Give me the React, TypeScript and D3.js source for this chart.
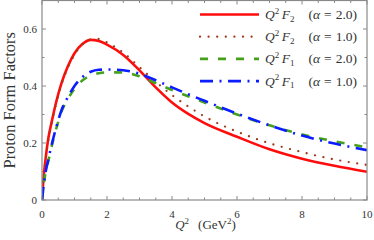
import React from "react";
import * as d3 from "d3";

const q2 = [0, 0.05, 0.1, 0.2, 0.3, 0.45, 0.6, 0.8, 1, 1.25, 1.5, 1.75, 2, 2.5, 3, 3.5, 4, 4.5, 5, 6, 7, 8, 9, 10];
const f2a2 = [0, 0.08, 0.135, 0.22, 0.275, 0.35, 0.41, 0.47, 0.515, 0.548, 0.562, 0.558, 0.545, 0.509, 0.455, 0.395, 0.342, 0.302, 0.27, 0.222, 0.178, 0.145, 0.12, 0.099];
const f2a1 = [0, 0.08, 0.13, 0.215, 0.27, 0.345, 0.405, 0.465, 0.51, 0.546, 0.563, 0.565, 0.553, 0.517, 0.466, 0.415, 0.368, 0.328, 0.293, 0.24, 0.199, 0.168, 0.142, 0.123];
const f1a2 = [0, 0.05, 0.09, 0.14, 0.19, 0.255, 0.31, 0.355, 0.39, 0.42, 0.437, 0.445, 0.448, 0.447, 0.434, 0.41, 0.386, 0.364, 0.342, 0.3, 0.262, 0.23, 0.206, 0.185];
const f1a1 = [0, 0.05, 0.09, 0.145, 0.195, 0.26, 0.315, 0.362, 0.4, 0.432, 0.45, 0.457, 0.458, 0.455, 0.443, 0.42, 0.395, 0.371, 0.348, 0.303, 0.262, 0.226, 0.198, 0.175];

const xTicks = [0, 2, 4, 6, 8, 10];
const yTicks = [0, 0.2, 0.4, 0.6];

const series = [
  { vals: f2a2, F: "F", sub: "2", alpha: "2.0", color: "#ff0d0d", width: 2.6, dash: "", cap: "butt" },
  { vals: f2a1, F: "F", sub: "2", alpha: "1.0", color: "#a03a18", width: 2.3, dash: "0 8.6", cap: "round" },
  { vals: f1a2, F: "F", sub: "1", alpha: "2.0", color: "#45a01c", width: 2.6, dash: "8 10", cap: "butt" },
  { vals: f1a1, F: "F", sub: "1", alpha: "1.0", color: "#0b1cff", width: 2.6, dash: "13 6.5 2 6.5", cap: "butt" },
];

const W = 374, H = 240;
const m = { left: 42, right: 7, top: 0.5, bottom: 40 };
const serif = "'Liberation Serif', 'DejaVu Serif', serif";
const axisColor = "#8a8a8a";

export default function App() {
  const x = d3.scaleLinear().domain([0, 10]).range([m.left, W - m.right]);
  const y = d3.scaleLinear().domain([0, 0.7]).range([H - m.bottom, m.top]);
  const line = (vals: number[]) =>
    d3.line<number>()
      .x((_, i) => x(q2[i]))
      .y((d) => y(d))
      .curve(d3.curveMonotoneX)(vals) || "";

  const xMinor = d3.range(0, 10.01, 0.5);
  const yMinor = d3.range(0, 0.701, 0.1);
  const x0 = x(0), x1 = x(10), y0 = y(0), y1 = y(0.7);

  return (
    <svg width={W} height={H} style={{ position: "absolute", left: 0, top: 0, background: "#fff" }}>
      <defs>
        <clipPath id="plot">
          <rect x={x0} y={y1} width={x1 - x0} height={y0 - y1} />
        </clipPath>
      </defs>
      {/* ticks, inward on all four sides */}
      <g stroke={axisColor} strokeWidth={1}>
        {xMinor.map((t) => {
          const len = Math.abs(t % 2) < 1e-6 ? 4 : 2.5;
          return (
            <g key={"x" + t}>
              <line x1={x(t)} x2={x(t)} y1={y0} y2={y0 - len} />
              <line x1={x(t)} x2={x(t)} y1={y1} y2={y1 + len} />
            </g>
          );
        })}
        {yMinor.map((t, i) => {
          const len = i % 2 === 0 ? 4 : 2.5;
          return (
            <g key={"y" + i}>
              <line x1={x0} x2={x0 + len} y1={y(t)} y2={y(t)} />
              <line x1={x1} x2={x1 - len} y1={y(t)} y2={y(t)} />
            </g>
          );
        })}
      </g>
      <g clipPath="url(#plot)" fill="none">
        {series.map((s, i) => (
          <path key={i} d={line(s.vals)} stroke={s.color} strokeWidth={s.width}
            strokeDasharray={s.dash || undefined} strokeLinecap={s.cap as any} />
        ))}
      </g>
      <rect x={x0} y={y1} width={x1 - x0} height={y0 - y1} fill="none" stroke={axisColor} strokeWidth={1.2} />
      <g fontFamily={serif} fontSize={11} fill="#333">
        {xTicks.map((t) => (
          <text key={t} x={x(t)} y={y0 + 18} textAnchor="middle">{t}</text>
        ))}
        {yTicks.map((t) => (
          <text key={t} x={x0 - 5} y={y(t) + 4} textAnchor="end">{t === 0 ? "0" : t.toFixed(1)}</text>
        ))}
      </g>
      <text transform={`translate(14.5,${(y0 + y1) / 2}) rotate(-90)`} textAnchor="middle"
        fontFamily={serif} fontSize={16.5} fill="#333">Proton Form Factors</text>
      <text x={x(5) + 1} y={H - 11} textAnchor="middle" fontFamily={serif} fontSize={13} fill="#333">
        <tspan fontStyle="italic">Q</tspan>
        <tspan fontSize={9} dy={-5}>2</tspan>
        <tspan dy={5} dx={9}>(GeV</tspan>
        <tspan fontSize={9} dy={-5}>2</tspan>
        <tspan dy={5}>)</tspan>
      </text>
      <g fontFamily={serif} fontSize={13.5} fill="#333">
        {series.map((s, i) => {
          const ly = 14.5 + i * 22.2;
          return (
            <g key={i}>
              <line x1={200} x2={259} y1={ly} y2={ly} stroke={s.color} strokeWidth={s.width}
                strokeDasharray={s.dash || undefined} strokeLinecap={s.cap as any} />
              <text x={265} y={ly + 4.5}>
                <tspan fontStyle="italic">Q</tspan>
                <tspan fontSize={9} dy={-5.5}>2</tspan>
                <tspan fontStyle="italic" dy={5.5} dx={2.5}>{s.F}</tspan>
                <tspan fontSize={9} dy={2.5}>{s.sub}</tspan>
                <tspan dy={-2.5} dx={14}>(</tspan>
                <tspan fontStyle="italic">α</tspan>
                <tspan dx={4}>=</tspan>
                <tspan dx={4}>{s.alpha})</tspan>
              </text>
            </g>
          );
        })}
      </g>
    </svg>
  );
}
